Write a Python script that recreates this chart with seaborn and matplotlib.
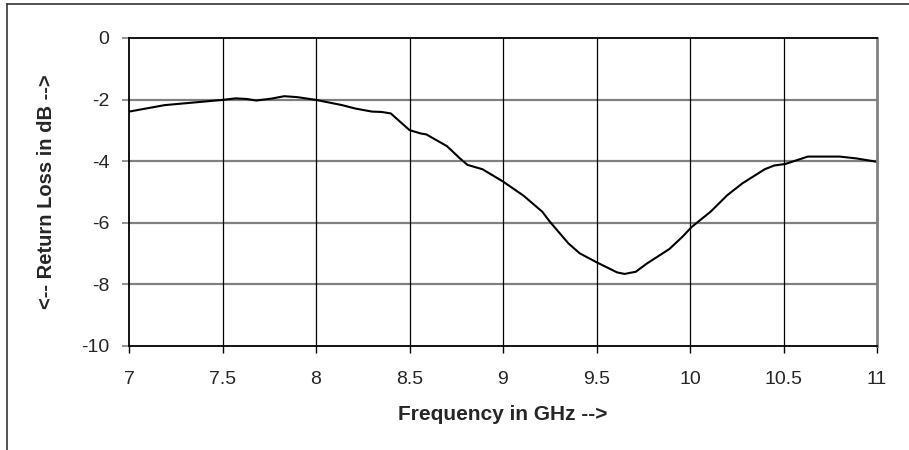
import pandas as pd
import matplotlib.pyplot as plt
import seaborn as sns
from matplotlib.lines import Line2D

# values
freq_ghz = [7.00, 7.19, 7.50, 7.57, 7.63, 7.68, 7.76, 7.83, 7.90, 8.00,
            8.14, 8.21, 8.30, 8.35, 8.40, 8.50, 8.56, 8.59, 8.70, 8.77,
            8.81, 8.89, 9.00, 9.11, 9.21, 9.25, 9.35, 9.41, 9.50, 9.61,
            9.65, 9.71, 9.77, 9.89, 9.96, 10.01, 10.11, 10.20, 10.28, 10.40,
            10.45, 10.51, 10.63, 10.80, 10.89, 11.00]
return_loss_db = [-2.39, -2.18, -2.01, -1.96, -1.98, -2.03, -1.97, -1.89, -1.92, -2.01,
                  -2.18, -2.29, -2.39, -2.40, -2.45, -2.99, -3.10, -3.13, -3.51, -3.91,
                  -4.12, -4.26, -4.66, -5.12, -5.64, -5.96, -6.67, -6.99, -7.28, -7.61,
                  -7.66, -7.59, -7.32, -6.85, -6.45, -6.13, -5.64, -5.10, -4.72, -4.26,
                  -4.14, -4.09, -3.85, -3.85, -3.91, -4.02]

x_ticks = [7, 7.5, 8, 8.5, 9, 9.5, 10, 10.5, 11]
x_tick_labels = ['7', '7.5', '8', '8.5', '9', '9.5', '10', '10.5', '11']
y_ticks = [0, -2, -4, -6, -8, -10]

df = pd.DataFrame({'Frequency': freq_ghz, 'ReturnLoss': return_loss_db})

sns.set_style("white")
plt.rcParams['font.family'] = ['Liberation Sans', 'DejaVu Sans']
plt.rcParams['axes.unicode_minus'] = False

fig = plt.figure(figsize=(9.09, 4.5), dpi=100)
ax = fig.add_axes([129 / 909, 1 - 346 / 450, 748 / 909, 308 / 450])

sns.lineplot(x='Frequency', y='ReturnLoss', data=df, color='black', linewidth=1.5, ax=ax)

ax.set_xlim(7, 11)
ax.set_ylim(-10, 0)
ax.set_xticks(x_ticks)
ax.set_xticklabels(x_tick_labels)
ax.set_yticks(y_ticks)

for y in y_ticks[1:-1]:
    ax.axhline(y, color='#808080', linewidth=1.6, zorder=0)
for x in x_ticks[1:-1]:
    ax.axvline(x, color='black', linewidth=0.9, zorder=0)

for side in ['top', 'left', 'bottom']:
    ax.spines[side].set_color('black')
    ax.spines[side].set_linewidth(1.3)
ax.spines['right'].set_color('#808080')
ax.spines['right'].set_linewidth(2)

ax.tick_params(axis='x', direction='out', length=5, width=1, color='black',
               labelsize=14, pad=13, bottom=True)
ax.tick_params(axis='y', direction='out', length=5, width=1.2, color='#808080',
               labelsize=14, pad=9, left=True)

ax.set_xlabel('Frequency in GHz -->', fontsize=15, fontweight='bold', labelpad=12)
ax.set_ylabel('<-- Return Loss in dB -->', fontsize=14.5, fontweight='bold', labelpad=18)

# outer chart frame (top and left edges visible)
fig.add_artist(Line2D([7 / 909, 1], [1 - 4 / 450, 1 - 4 / 450], color='#333333',
                      linewidth=1.2, transform=fig.transFigure))
fig.add_artist(Line2D([7 / 909, 7 / 909], [0, 1 - 4 / 450], color='#333333',
                      linewidth=1.2, transform=fig.transFigure))

plt.savefig('out.png', dpi=100)
plt.close()
